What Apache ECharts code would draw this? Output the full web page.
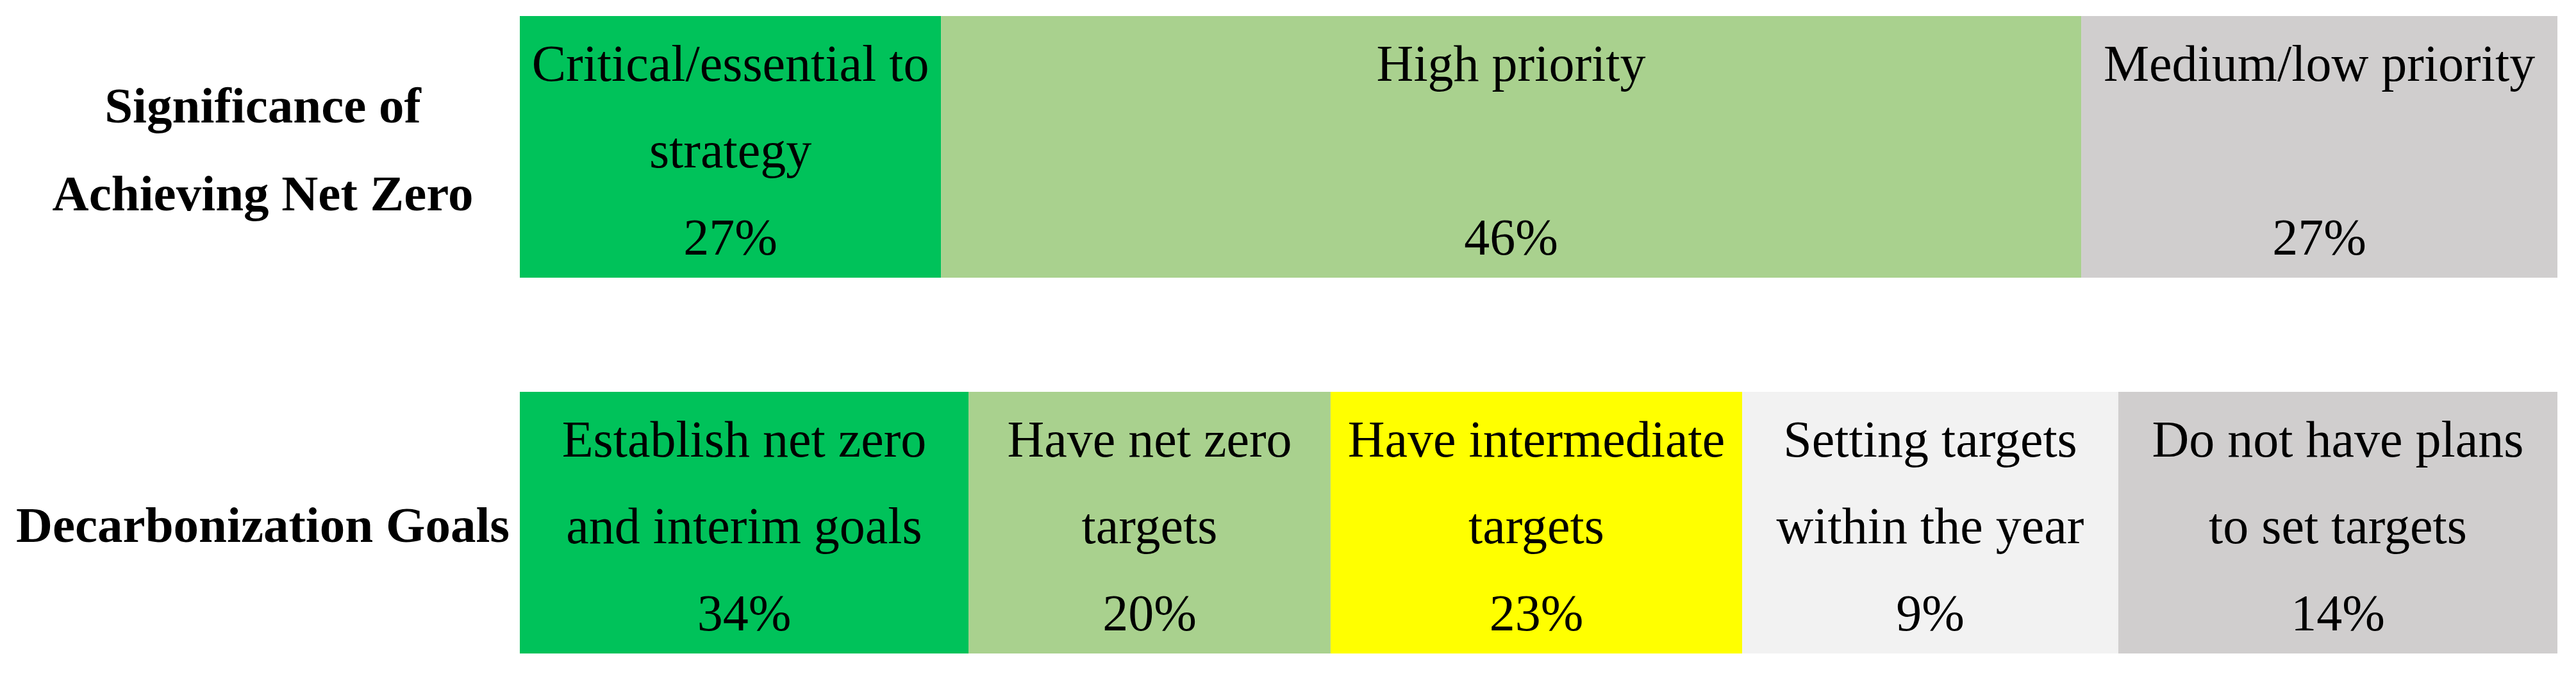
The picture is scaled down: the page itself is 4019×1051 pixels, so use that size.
<!DOCTYPE html>
<html><head><meta charset="utf-8">
<script src="https://cdn.jsdelivr.net/npm/echarts@6/dist/echarts.min.js"></script>
<style>html,body{margin:0;padding:0;background:#fff}#chart{width:4019px;height:1051px}</style>
</head><body><div id="chart"></div>
<script>
// Row titles
const rowTitles = ['Significance of\nAchieving Net Zero', 'Decarbonization Goals'];

// Row 1: Significance of achieving net zero
const sigCategories = ['Critical/essential to\nstrategy', 'High priority\n', 'Medium/low priority\n'];
const sigShares = [27, 46, 27];            // percent shown in each cell
const sigSpans = [20.67, 55.96, 23.37];    // cell span (% of row)

// Row 2: Decarbonization goals
const goalCategories = ['Establish net zero\nand interim goals', 'Have net zero\ntargets', 'Have intermediate\ntargets', 'Setting targets\nwithin the year', 'Do not have plans\nto set targets'];
const goalShares = [34, 20, 23, 9, 14];
const goalSpans = [22.02, 17.77, 20.20, 18.46, 21.55];

const sigColors = ['#00C25A', '#A9D18E', '#D0CECE'];
const goalColors = ['#00C25A', '#A9D18E', '#FFFF00', '#F2F2F2', '#D0CECE'];

const FONT = "'Liberation Serif', 'Times New Roman', serif";
const rows = [
  { cats: sigCategories, shares: sigShares, spans: sigSpans, colors: sigColors },
  { cats: goalCategories, shares: goalShares, spans: goalSpans, colors: goalColors }
];

const series = [];
rows.forEach((row, r) => {
  row.cats.forEach((cat, i) => {
    series.push({
      type: 'bar',
      xAxisIndex: r,
      yAxisIndex: r,
      stack: 'row' + r,
      barWidth: '100%',
      silent: true,
      data: [{ value: row.spans[i], name: cat }],
      itemStyle: { color: row.colors[i] },
      label: {
        show: true,
        position: 'inside',
        offset: [0, 11],
        formatter: () => cat + '\n' + row.shares[i] + '%',
        fontFamily: FONT,
        fontSize: 80,
        color: '#000',
        lineHeight: 135.5,
        align: 'center'
      }
    });
  });
});

const axisLabelStyle = {
  align: 'center',
  margin: 401,
  formatter: v => '{gap|}\n' + v.split('\n').map(s => '{t|' + s + '}').join('\n'),
  rich: {
    t: { fontFamily: FONT, fontWeight: 'bold', fontSize: 79, color: '#000', lineHeight: 137 },
    gap: { fontSize: 1, lineHeight: 20, height: 20 }
  }
};

const chart = echarts.init(document.getElementById('chart'), null, { renderer: 'canvas' });
chart.setOption({
  animation: false,
  backgroundColor: '#ffffff',
  grid: [
    { left: 811, right: 29, top: 25, height: 408 },
    { left: 811, right: 29, top: 611, height: 408 }
  ],
  xAxis: [
    { type: 'value', gridIndex: 0, min: 0, max: 100, show: false },
    { type: 'value', gridIndex: 1, min: 0, max: 100, show: false }
  ],
  yAxis: [
    { type: 'category', gridIndex: 0, data: [rowTitles[0]], axisLine: { show: false }, axisTick: { show: false }, splitLine: { show: false }, axisLabel: axisLabelStyle },
    { type: 'category', gridIndex: 1, data: [rowTitles[1]], axisLine: { show: false }, axisTick: { show: false }, splitLine: { show: false }, axisLabel: axisLabelStyle }
  ],
  series: series
});
</script>
</body></html>
